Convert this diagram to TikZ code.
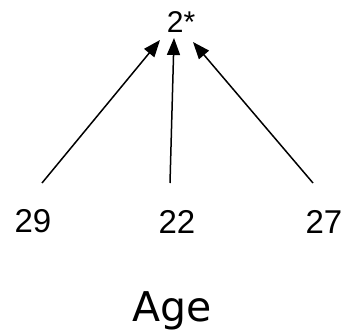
\documentclass[tikz,border=0pt]{standalone}
\usepackage{fontspec}
\setmainfont{Liberation Sans}
\newfontfamily\agefont{DejaVu Sans}
\usetikzlibrary{arrows.meta}
\begin{document}
\begin{tikzpicture}[x=1pt,y=1pt,
  lbl/.style={anchor=base,inner sep=0pt,font=\fontsize{33}{37}\selectfont},
  conn/.style={line width=1.5pt,-{Triangle[length=17pt,width=13pt]}}]
\useasboundingbox (0,0) rectangle (345,330);
\node[lbl,font=\fontsize{30}{34}\selectfont] (top) at (181,297) {2*};
\node[lbl] (n29) at (33,98) {29};
\node[lbl] (n22) at (177,97) {22};
\node[lbl] (n27) at (324,97) {27};
\node[anchor=base,inner sep=0pt,font=\agefont\fontsize{41}{45}\selectfont] (age) at (172.5,9) {Age};
\coordinate (s1) at (42,147);
\coordinate (t1) at (160,290);
\coordinate (s2) at (170,147);
\coordinate (t2) at (174,292);
\coordinate (s3) at (313,147);
\coordinate (t3) at (193,288);
\draw[conn] (s1) -- (t1);
\draw[conn] (s2) -- (t2);
\draw[conn] (s3) -- (t3);
\end{tikzpicture}
\end{document}
